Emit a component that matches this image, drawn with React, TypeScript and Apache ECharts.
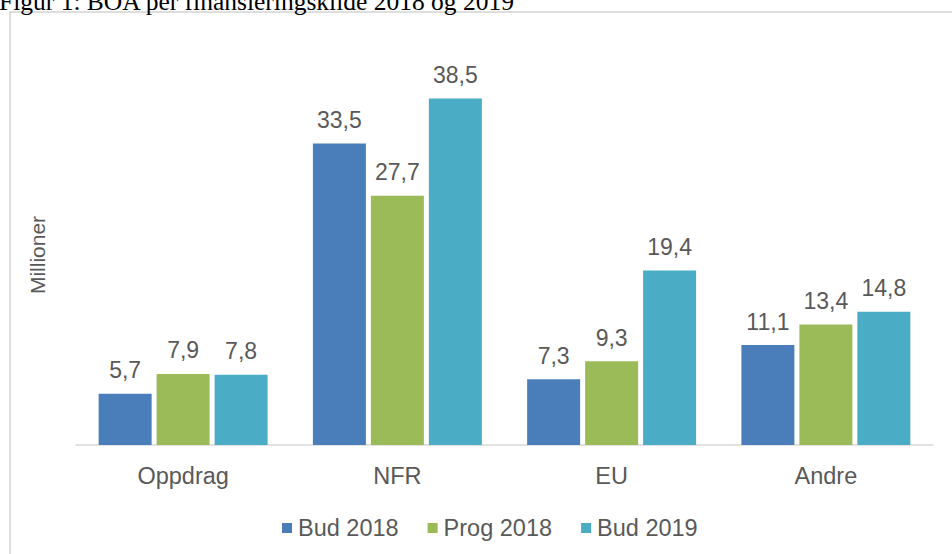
import React, { useEffect, useRef } from "react";
import * as echarts from "echarts";

const categories = ["Oppdrag", "NFR", "EU", "Andre"];
const seriesNames = ["Bud 2018", "Prog 2018", "Bud 2019"];
const bud2018 = [5.7, 33.5, 7.3, 11.1];
const prog2018 = [7.9, 27.7, 9.3, 13.4];
const bud2019 = [7.8, 38.5, 19.4, 14.8];
const colors = ["#4a7ebb", "#9bbb59", "#4bacc6"];
const titleText = "Figur 1: BOA per finansieringskilde 2018 og 2019";
const yName = "Millioner";

export default function App() {
  const ref = useRef<HTMLDivElement>(null);
  useEffect(() => {
    document.body.style.margin = "0";
    const chart = echarts.init(ref.current!, null, { renderer: "svg" });
    const font = "Liberation Sans, Arial, sans-serif";
    const values = [bud2018, prog2018, bud2019];
    chart.setOption({
      animation: false,
      color: colors,
      grid: { left: 76, right: 19, top: 85, bottom: 109, containLabel: false },
      xAxis: {
        type: "category",
        data: categories,
        axisLine: { lineStyle: { color: "#d9d9d9", width: 1.5 } },
        axisTick: { show: false },
        axisLabel: { color: "#595959", fontSize: 23.5, fontFamily: font, margin: 19 },
      },
      yAxis: {
        type: "value",
        min: 0,
        max: 40,
        show: false,
        splitLine: { show: false },
      },
      legend: {
        data: seriesNames,
        top: 511,
        left: 277,
        icon: "rect",
        itemWidth: 10,
        itemHeight: 10,
        itemGap: 29,
        textStyle: { color: "#595959", fontSize: 23.5, fontFamily: font, padding: [0, 0, 0, 1] },
      },
      graphic: [
        {
          type: "rect",
          shape: { x: 10, y: 12, width: 1000, height: 600 },
          style: { fill: "none", stroke: "#d4d4d4", lineWidth: 1.5 },
          silent: true,
        },
        {
          type: "text",
          x: -1,
          y: 1.5,
          style: {
            text: titleText,
            font: '25.5px "Liberation Serif", "Times New Roman", serif',
            fill: "#000000",
            verticalAlign: "middle",
            align: "left",
          },
        },
        {
          type: "text",
          x: 37,
          y: 255,
          rotation: Math.PI / 2,
          style: {
            text: yName,
            font: '21px "Liberation Sans", Arial, sans-serif',
            fill: "#595959",
            align: "center",
            verticalAlign: "middle",
          },
        },
      ],
      series: seriesNames.map((name, i) => ({
        name,
        type: "bar",
        data: values[i],
        barWidth: 53,
        barGap: "9.4%",
        itemStyle: { color: colors[i] },
        label: {
          show: true,
          position: "top",
          distance: 12,
          color: "#595959",
          fontSize: 23,
          fontFamily: font,
          formatter: (p: any) => Number(p.value).toFixed(1).replace(".", ","),
        },
      })),
    });
    return () => chart.dispose();
  }, []);
  return (
    <div
      ref={ref}
      style={{ position: "absolute", left: 0, top: 0, width: 952, height: 554, background: "#ffffff" }}
    />
  );
}
